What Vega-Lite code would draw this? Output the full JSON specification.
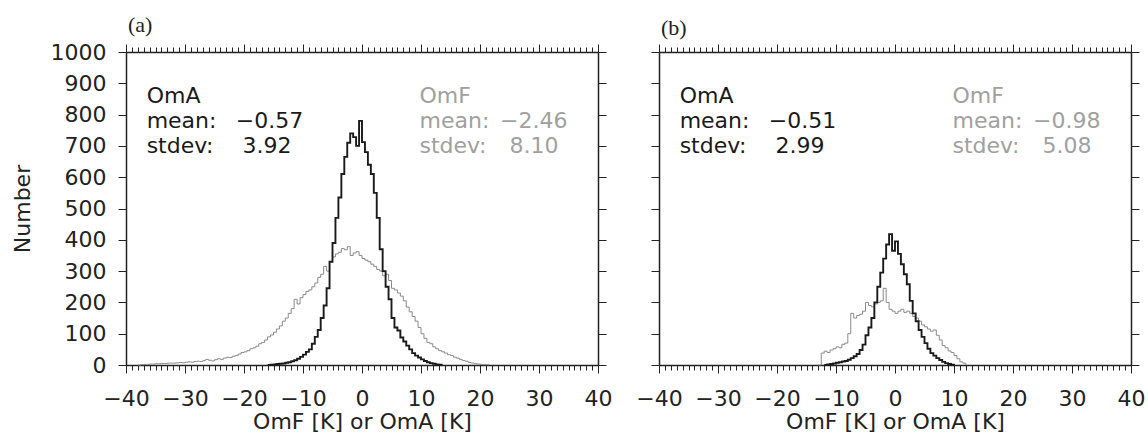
{
 "$schema": "https://vega.github.io/schema/vega-lite/v6.json",
 "background": "white",
 "padding": {"left": 11, "top": 14, "right": 5, "bottom": 5},
 "bounds": "flush",
 "spacing": 61,
 "config": {
  "font": "DejaVu Sans",
  "view": {"stroke": null},
  "axis": {"grid": false, "domainColor": "#222222", "domainWidth": 1.5, "tickColor": "#222222", "tickWidth": 1, "labelColor": "#222222", "titleColor": "#222222", "labelFontSize": 22, "titleFontSize": 22, "titleFontWeight": "normal", "labelFlush": false, "labelOverlap": false}
 },
 "datasets": {
  "hist": [
   {"p":"a","s":"OmA","x":-16,"n":0},{"p":"a","s":"OmA","x":-15.5,"n":1},{"p":"a","s":"OmA","x":-15,"n":2},{"p":"a","s":"OmA","x":-14.5,"n":3},{"p":"a","s":"OmA","x":-14,"n":4},{"p":"a","s":"OmA","x":-13.5,"n":5},{"p":"a","s":"OmA","x":-13,"n":7},{"p":"a","s":"OmA","x":-12.5,"n":9},{"p":"a","s":"OmA","x":-12,"n":12},{"p":"a","s":"OmA","x":-11.5,"n":15},{"p":"a","s":"OmA","x":-11,"n":20},{"p":"a","s":"OmA","x":-10.5,"n":26},{"p":"a","s":"OmA","x":-10,"n":33},{"p":"a","s":"OmA","x":-9.5,"n":42},{"p":"a","s":"OmA","x":-9,"n":50},{"p":"a","s":"OmA","x":-8.5,"n":68},{"p":"a","s":"OmA","x":-8,"n":90},{"p":"a","s":"OmA","x":-7.5,"n":112},{"p":"a","s":"OmA","x":-7,"n":150},{"p":"a","s":"OmA","x":-6.5,"n":190},{"p":"a","s":"OmA","x":-6,"n":245},{"p":"a","s":"OmA","x":-5.5,"n":330},{"p":"a","s":"OmA","x":-5,"n":390},{"p":"a","s":"OmA","x":-4.5,"n":470},{"p":"a","s":"OmA","x":-4,"n":535},{"p":"a","s":"OmA","x":-3.5,"n":610},{"p":"a","s":"OmA","x":-3,"n":665},{"p":"a","s":"OmA","x":-2.5,"n":710},{"p":"a","s":"OmA","x":-2,"n":740},{"p":"a","s":"OmA","x":-1.5,"n":728},{"p":"a","s":"OmA","x":-1,"n":700},{"p":"a","s":"OmA","x":-0.5,"n":780},{"p":"a","s":"OmA","x":0,"n":712},{"p":"a","s":"OmA","x":0.5,"n":680},{"p":"a","s":"OmA","x":1,"n":640},{"p":"a","s":"OmA","x":1.5,"n":610},{"p":"a","s":"OmA","x":2,"n":550},{"p":"a","s":"OmA","x":2.5,"n":470},{"p":"a","s":"OmA","x":3,"n":370},{"p":"a","s":"OmA","x":3.5,"n":300},{"p":"a","s":"OmA","x":4,"n":250},{"p":"a","s":"OmA","x":4.5,"n":210},{"p":"a","s":"OmA","x":5,"n":150},{"p":"a","s":"OmA","x":5.5,"n":120},{"p":"a","s":"OmA","x":6,"n":110},{"p":"a","s":"OmA","x":6.5,"n":88},{"p":"a","s":"OmA","x":7,"n":75},{"p":"a","s":"OmA","x":7.5,"n":62},{"p":"a","s":"OmA","x":8,"n":50},{"p":"a","s":"OmA","x":8.5,"n":38},{"p":"a","s":"OmA","x":9,"n":30},{"p":"a","s":"OmA","x":9.5,"n":24},{"p":"a","s":"OmA","x":10,"n":18},{"p":"a","s":"OmA","x":10.5,"n":13},{"p":"a","s":"OmA","x":11,"n":9},{"p":"a","s":"OmA","x":11.5,"n":6},{"p":"a","s":"OmA","x":12,"n":4},{"p":"a","s":"OmA","x":12.5,"n":2},{"p":"a","s":"OmA","x":13,"n":1},{"p":"a","s":"OmA","x":13.5,"n":0},
   {"p":"a","s":"OmF","x":-38,"n":0},{"p":"a","s":"OmF","x":-37.5,"n":1},{"p":"a","s":"OmF","x":-37,"n":2},{"p":"a","s":"OmF","x":-36.5,"n":2},{"p":"a","s":"OmF","x":-36,"n":3},{"p":"a","s":"OmF","x":-35.5,"n":3},{"p":"a","s":"OmF","x":-35,"n":4},{"p":"a","s":"OmF","x":-34.5,"n":4},{"p":"a","s":"OmF","x":-34,"n":5},{"p":"a","s":"OmF","x":-33.5,"n":5},{"p":"a","s":"OmF","x":-33,"n":6},{"p":"a","s":"OmF","x":-32.5,"n":6},{"p":"a","s":"OmF","x":-32,"n":6},{"p":"a","s":"OmF","x":-31.5,"n":7},{"p":"a","s":"OmF","x":-31,"n":8},{"p":"a","s":"OmF","x":-30.5,"n":7},{"p":"a","s":"OmF","x":-30,"n":9},{"p":"a","s":"OmF","x":-29.5,"n":10},{"p":"a","s":"OmF","x":-29,"n":9},{"p":"a","s":"OmF","x":-28.5,"n":11},{"p":"a","s":"OmF","x":-28,"n":12},{"p":"a","s":"OmF","x":-27.5,"n":11},{"p":"a","s":"OmF","x":-27,"n":14},{"p":"a","s":"OmF","x":-26.5,"n":18},{"p":"a","s":"OmF","x":-26,"n":15},{"p":"a","s":"OmF","x":-25.5,"n":13},{"p":"a","s":"OmF","x":-25,"n":17},{"p":"a","s":"OmF","x":-24.5,"n":20},{"p":"a","s":"OmF","x":-24,"n":18},{"p":"a","s":"OmF","x":-23.5,"n":22},{"p":"a","s":"OmF","x":-23,"n":25},{"p":"a","s":"OmF","x":-22.5,"n":24},{"p":"a","s":"OmF","x":-22,"n":28},{"p":"a","s":"OmF","x":-21.5,"n":30},{"p":"a","s":"OmF","x":-21,"n":35},{"p":"a","s":"OmF","x":-20.5,"n":40},{"p":"a","s":"OmF","x":-20,"n":42},{"p":"a","s":"OmF","x":-19.5,"n":46},{"p":"a","s":"OmF","x":-19,"n":52},{"p":"a","s":"OmF","x":-18.5,"n":55},{"p":"a","s":"OmF","x":-18,"n":60},{"p":"a","s":"OmF","x":-17.5,"n":68},{"p":"a","s":"OmF","x":-17,"n":72},{"p":"a","s":"OmF","x":-16.5,"n":80},{"p":"a","s":"OmF","x":-16,"n":90},{"p":"a","s":"OmF","x":-15.5,"n":96},{"p":"a","s":"OmF","x":-15,"n":105},{"p":"a","s":"OmF","x":-14.5,"n":115},{"p":"a","s":"OmF","x":-14,"n":125},{"p":"a","s":"OmF","x":-13.5,"n":140},{"p":"a","s":"OmF","x":-13,"n":150},{"p":"a","s":"OmF","x":-12.5,"n":165},{"p":"a","s":"OmF","x":-12,"n":180},{"p":"a","s":"OmF","x":-11.5,"n":210},{"p":"a","s":"OmF","x":-11,"n":195},{"p":"a","s":"OmF","x":-10.5,"n":215},{"p":"a","s":"OmF","x":-10,"n":225},{"p":"a","s":"OmF","x":-9.5,"n":235},{"p":"a","s":"OmF","x":-9,"n":240},{"p":"a","s":"OmF","x":-8.5,"n":250},{"p":"a","s":"OmF","x":-8,"n":262},{"p":"a","s":"OmF","x":-7.5,"n":280},{"p":"a","s":"OmF","x":-7,"n":290},{"p":"a","s":"OmF","x":-6.5,"n":315},{"p":"a","s":"OmF","x":-6,"n":300},{"p":"a","s":"OmF","x":-5.5,"n":330},{"p":"a","s":"OmF","x":-5,"n":345},{"p":"a","s":"OmF","x":-4.5,"n":355},{"p":"a","s":"OmF","x":-4,"n":360},{"p":"a","s":"OmF","x":-3.5,"n":372},{"p":"a","s":"OmF","x":-3,"n":368},{"p":"a","s":"OmF","x":-2.5,"n":378},{"p":"a","s":"OmF","x":-2,"n":350},{"p":"a","s":"OmF","x":-1.5,"n":358},{"p":"a","s":"OmF","x":-1,"n":362},{"p":"a","s":"OmF","x":-0.5,"n":350},{"p":"a","s":"OmF","x":0,"n":340},{"p":"a","s":"OmF","x":0.5,"n":335},{"p":"a","s":"OmF","x":1,"n":330},{"p":"a","s":"OmF","x":1.5,"n":322},{"p":"a","s":"OmF","x":2,"n":315},{"p":"a","s":"OmF","x":2.5,"n":305},{"p":"a","s":"OmF","x":3,"n":300},{"p":"a","s":"OmF","x":3.5,"n":285},{"p":"a","s":"OmF","x":4,"n":290},{"p":"a","s":"OmF","x":4.5,"n":270},{"p":"a","s":"OmF","x":5,"n":245},{"p":"a","s":"OmF","x":5.5,"n":240},{"p":"a","s":"OmF","x":6,"n":230},{"p":"a","s":"OmF","x":6.5,"n":220},{"p":"a","s":"OmF","x":7,"n":205},{"p":"a","s":"OmF","x":7.5,"n":185},{"p":"a","s":"OmF","x":8,"n":170},{"p":"a","s":"OmF","x":8.5,"n":155},{"p":"a","s":"OmF","x":9,"n":140},{"p":"a","s":"OmF","x":9.5,"n":120},{"p":"a","s":"OmF","x":10,"n":100},{"p":"a","s":"OmF","x":10.5,"n":85},{"p":"a","s":"OmF","x":11,"n":72},{"p":"a","s":"OmF","x":11.5,"n":68},{"p":"a","s":"OmF","x":12,"n":58},{"p":"a","s":"OmF","x":12.5,"n":52},{"p":"a","s":"OmF","x":13,"n":46},{"p":"a","s":"OmF","x":13.5,"n":42},{"p":"a","s":"OmF","x":14,"n":38},{"p":"a","s":"OmF","x":14.5,"n":33},{"p":"a","s":"OmF","x":15,"n":30},{"p":"a","s":"OmF","x":15.5,"n":25},{"p":"a","s":"OmF","x":16,"n":22},{"p":"a","s":"OmF","x":16.5,"n":18},{"p":"a","s":"OmF","x":17,"n":14},{"p":"a","s":"OmF","x":17.5,"n":12},{"p":"a","s":"OmF","x":18,"n":8},{"p":"a","s":"OmF","x":18.5,"n":6},{"p":"a","s":"OmF","x":19,"n":4},{"p":"a","s":"OmF","x":19.5,"n":3},{"p":"a","s":"OmF","x":20,"n":2},{"p":"a","s":"OmF","x":20.5,"n":1},{"p":"a","s":"OmF","x":21,"n":1},{"p":"a","s":"OmF","x":21.5,"n":0},
   {"p":"b","s":"OmA","x":-12,"n":0},{"p":"b","s":"OmA","x":-11.5,"n":2},{"p":"b","s":"OmA","x":-11,"n":3},{"p":"b","s":"OmA","x":-10.5,"n":5},{"p":"b","s":"OmA","x":-10,"n":7},{"p":"b","s":"OmA","x":-9.5,"n":9},{"p":"b","s":"OmA","x":-9,"n":11},{"p":"b","s":"OmA","x":-8.5,"n":13},{"p":"b","s":"OmA","x":-8,"n":17},{"p":"b","s":"OmA","x":-7.5,"n":22},{"p":"b","s":"OmA","x":-7,"n":28},{"p":"b","s":"OmA","x":-6.5,"n":35},{"p":"b","s":"OmA","x":-6,"n":48},{"p":"b","s":"OmA","x":-5.5,"n":65},{"p":"b","s":"OmA","x":-5,"n":95},{"p":"b","s":"OmA","x":-4.5,"n":120},{"p":"b","s":"OmA","x":-4,"n":150},{"p":"b","s":"OmA","x":-3.5,"n":200},{"p":"b","s":"OmA","x":-3,"n":250},{"p":"b","s":"OmA","x":-2.5,"n":295},{"p":"b","s":"OmA","x":-2,"n":340},{"p":"b","s":"OmA","x":-1.5,"n":385},{"p":"b","s":"OmA","x":-1,"n":418},{"p":"b","s":"OmA","x":-0.5,"n":365},{"p":"b","s":"OmA","x":0,"n":395},{"p":"b","s":"OmA","x":0.5,"n":355},{"p":"b","s":"OmA","x":1,"n":322},{"p":"b","s":"OmA","x":1.5,"n":290},{"p":"b","s":"OmA","x":2,"n":258},{"p":"b","s":"OmA","x":2.5,"n":205},{"p":"b","s":"OmA","x":3,"n":165},{"p":"b","s":"OmA","x":3.5,"n":140},{"p":"b","s":"OmA","x":4,"n":112},{"p":"b","s":"OmA","x":4.5,"n":90},{"p":"b","s":"OmA","x":5,"n":70},{"p":"b","s":"OmA","x":5.5,"n":52},{"p":"b","s":"OmA","x":6,"n":38},{"p":"b","s":"OmA","x":6.5,"n":30},{"p":"b","s":"OmA","x":7,"n":22},{"p":"b","s":"OmA","x":7.5,"n":16},{"p":"b","s":"OmA","x":8,"n":10},{"p":"b","s":"OmA","x":8.5,"n":6},{"p":"b","s":"OmA","x":9,"n":3},{"p":"b","s":"OmA","x":9.5,"n":1},{"p":"b","s":"OmA","x":10,"n":0},
   {"p":"b","s":"OmF","x":-13,"n":0},{"p":"b","s":"OmF","x":-12.5,"n":38},{"p":"b","s":"OmF","x":-12,"n":44},{"p":"b","s":"OmF","x":-11.5,"n":40},{"p":"b","s":"OmF","x":-11,"n":48},{"p":"b","s":"OmF","x":-10.5,"n":52},{"p":"b","s":"OmF","x":-10,"n":58},{"p":"b","s":"OmF","x":-9.5,"n":55},{"p":"b","s":"OmF","x":-9,"n":66},{"p":"b","s":"OmF","x":-8.5,"n":70},{"p":"b","s":"OmF","x":-8,"n":100},{"p":"b","s":"OmF","x":-7.5,"n":165},{"p":"b","s":"OmF","x":-7,"n":150},{"p":"b","s":"OmF","x":-6.5,"n":158},{"p":"b","s":"OmF","x":-6,"n":162},{"p":"b","s":"OmF","x":-5.5,"n":172},{"p":"b","s":"OmF","x":-5,"n":200},{"p":"b","s":"OmF","x":-4.5,"n":190},{"p":"b","s":"OmF","x":-4,"n":186},{"p":"b","s":"OmF","x":-3.5,"n":195},{"p":"b","s":"OmF","x":-3,"n":200},{"p":"b","s":"OmF","x":-2.5,"n":205},{"p":"b","s":"OmF","x":-2,"n":245},{"p":"b","s":"OmF","x":-1.5,"n":200},{"p":"b","s":"OmF","x":-1,"n":178},{"p":"b","s":"OmF","x":-0.5,"n":172},{"p":"b","s":"OmF","x":0,"n":165},{"p":"b","s":"OmF","x":0.5,"n":172},{"p":"b","s":"OmF","x":1,"n":178},{"p":"b","s":"OmF","x":1.5,"n":168},{"p":"b","s":"OmF","x":2,"n":172},{"p":"b","s":"OmF","x":2.5,"n":165},{"p":"b","s":"OmF","x":3,"n":155},{"p":"b","s":"OmF","x":3.5,"n":150},{"p":"b","s":"OmF","x":4,"n":140},{"p":"b","s":"OmF","x":4.5,"n":128},{"p":"b","s":"OmF","x":5,"n":122},{"p":"b","s":"OmF","x":5.5,"n":115},{"p":"b","s":"OmF","x":6,"n":108},{"p":"b","s":"OmF","x":6.5,"n":112},{"p":"b","s":"OmF","x":7,"n":95},{"p":"b","s":"OmF","x":7.5,"n":80},{"p":"b","s":"OmF","x":8,"n":62},{"p":"b","s":"OmF","x":8.5,"n":55},{"p":"b","s":"OmF","x":9,"n":45},{"p":"b","s":"OmF","x":9.5,"n":40},{"p":"b","s":"OmF","x":10,"n":30},{"p":"b","s":"OmF","x":10.5,"n":20},{"p":"b","s":"OmF","x":11,"n":10},{"p":"b","s":"OmF","x":11.5,"n":6},{"p":"b","s":"OmF","x":12,"n":0}
  ],
  "txt": [
   {"p":"a","s":"OmA","x":-36.5,"y":836,"t":"OmA"},
   {"p":"a","s":"OmA","x":-36.5,"y":756,"t":"mean:"},
   {"p":"a","s":"OmA","x":-21.4,"y":756,"t":"−0.57"},
   {"p":"a","s":"OmA","x":-36.5,"y":677,"t":"stdev:"},
   {"p":"a","s":"OmA","x":-20.25,"y":677,"t":"3.92"},
   {"p":"a","s":"OmF","x":9.75,"y":836,"t":"OmF"},
   {"p":"a","s":"OmF","x":9.75,"y":756,"t":"mean:"},
   {"p":"a","s":"OmF","x":23.4,"y":756,"t":"−2.46"},
   {"p":"a","s":"OmF","x":9.75,"y":677,"t":"stdev:"},
   {"p":"a","s":"OmF","x":25.0,"y":677,"t":"8.10"},
   {"p":"b","s":"OmA","x":-36.5,"y":836,"t":"OmA"},
   {"p":"b","s":"OmA","x":-36.5,"y":756,"t":"mean:"},
   {"p":"b","s":"OmA","x":-21.4,"y":756,"t":"−0.51"},
   {"p":"b","s":"OmA","x":-36.5,"y":677,"t":"stdev:"},
   {"p":"b","s":"OmA","x":-20.25,"y":677,"t":"2.99"},
   {"p":"b","s":"OmF","x":9.75,"y":836,"t":"OmF"},
   {"p":"b","s":"OmF","x":9.75,"y":756,"t":"mean:"},
   {"p":"b","s":"OmF","x":23.4,"y":756,"t":"−0.98"},
   {"p":"b","s":"OmF","x":9.75,"y":677,"t":"stdev:"},
   {"p":"b","s":"OmF","x":25.0,"y":677,"t":"5.08"}
  ]
 },
 "hconcat": [
  {
   "width": 472, "height": 313,
   "title": {"text": "(a)", "font": "Liberation Serif", "fontSize": 22, "fontWeight": "normal", "anchor": "start", "frame": "group", "offset": 4, "dx": 2, "color": "#222222"},
   "resolve": {"axis": {"x": "independent", "y": "independent"}},
   "layer": [
    {
     "data": {"name": "hist"},
     "transform": [{"filter": "datum.p === 'a' && datum.s === 'OmF'"}],
     "mark": {"type": "line", "interpolate": "step-after", "color": "#8a8a8a", "strokeWidth": 1},
     "encoding": {
      "x": {"field": "x", "type": "quantitative", "scale": {"domain": [-40, 40], "nice": false},
            "axis": {"orient": "bottom", "tickCount": 80, "labelExpr": "datum.value % 10 === 0 ? datum.label : ''", "tickSize": {"condition": {"test": "datum.value % 10 === 0", "value": 8}, "value": 5}, "labelPadding": 15, "title": "OmF [K] or OmA [K]", "titlePadding": 2}},
      "y": {"field": "n", "type": "quantitative", "scale": {"domain": [0, 1000], "nice": false},
            "axis": {"orient": "left", "values": [0,100,200,300,400,500,600,700,800,900,1000], "format": "d", "tickSize": 8, "labelPadding": 12, "title": "Number", "titlePadding": 16}}
     }
    },
    {
     "data": {"name": "hist"},
     "transform": [{"filter": "datum.p === 'a' && datum.s === 'OmA'"}],
     "mark": {"type": "line", "interpolate": "step-after", "color": "#1a1a1a", "strokeWidth": 1.9},
     "encoding": {
      "x": {"field": "x", "type": "quantitative", "scale": {"domain": [-40, 40], "nice": false},
            "axis": {"orient": "top", "tickCount": 80, "labels": false, "tickSize": {"condition": {"test": "datum.value % 10 === 0", "value": 8}, "value": 5}, "title": null}},
      "y": {"field": "n", "type": "quantitative", "scale": {"domain": [0, 1000], "nice": false},
            "axis": {"orient": "right", "values": [0,100,200,300,400,500,600,700,800,900,1000], "tickSize": 8, "labels": false, "title": null}}
     }
    },
    {
     "data": {"name": "txt"},
     "transform": [{"filter": "datum.p === 'a'"}],
     "mark": {"type": "text", "align": "left", "baseline": "alphabetic", "fontSize": 22},
     "encoding": {
      "x": {"field": "x", "type": "quantitative", "axis": null},
      "y": {"field": "y", "type": "quantitative", "axis": null},
      "text": {"field": "t"},
      "color": {"field": "s", "type": "nominal", "scale": {"domain": ["OmA", "OmF"], "range": ["#1a1a1a", "#a0a0a0"]}, "legend": null}
     }
    }
   ]
  },
  {
   "width": 472, "height": 313,
   "title": {"text": "(b)", "font": "Liberation Serif", "fontSize": 22, "fontWeight": "normal", "anchor": "start", "frame": "group", "offset": 4, "dx": 2, "color": "#222222"},
   "resolve": {"axis": {"x": "independent", "y": "independent"}},
   "layer": [
    {
     "data": {"name": "hist"},
     "transform": [{"filter": "datum.p === 'b' && datum.s === 'OmF'"}],
     "mark": {"type": "line", "interpolate": "step-after", "color": "#8a8a8a", "strokeWidth": 1},
     "encoding": {
      "x": {"field": "x", "type": "quantitative", "scale": {"domain": [-40, 40], "nice": false},
            "axis": {"orient": "bottom", "tickCount": 80, "labelExpr": "datum.value % 10 === 0 ? datum.label : ''", "tickSize": {"condition": {"test": "datum.value % 10 === 0", "value": 8}, "value": 5}, "labelPadding": 15, "title": "OmF [K] or OmA [K]", "titlePadding": 2}},
      "y": {"field": "n", "type": "quantitative", "scale": {"domain": [0, 1000], "nice": false},
            "axis": {"orient": "left", "values": [0,100,200,300,400,500,600,700,800,900,1000], "tickSize": 8, "labels": false, "title": null}}
     }
    },
    {
     "data": {"name": "hist"},
     "transform": [{"filter": "datum.p === 'b' && datum.s === 'OmA'"}],
     "mark": {"type": "line", "interpolate": "step-after", "color": "#1a1a1a", "strokeWidth": 1.9},
     "encoding": {
      "x": {"field": "x", "type": "quantitative", "scale": {"domain": [-40, 40], "nice": false},
            "axis": {"orient": "top", "tickCount": 80, "labels": false, "tickSize": {"condition": {"test": "datum.value % 10 === 0", "value": 8}, "value": 5}, "title": null}},
      "y": {"field": "n", "type": "quantitative", "scale": {"domain": [0, 1000], "nice": false},
            "axis": {"orient": "right", "values": [0,100,200,300,400,500,600,700,800,900,1000], "tickSize": 8, "labels": false, "title": null}}
     }
    },
    {
     "data": {"name": "txt"},
     "transform": [{"filter": "datum.p === 'b'"}],
     "mark": {"type": "text", "align": "left", "baseline": "alphabetic", "fontSize": 22},
     "encoding": {
      "x": {"field": "x", "type": "quantitative", "axis": null},
      "y": {"field": "y", "type": "quantitative", "axis": null},
      "text": {"field": "t"},
      "color": {"field": "s", "type": "nominal", "scale": {"domain": ["OmA", "OmF"], "range": ["#1a1a1a", "#a0a0a0"]}, "legend": null}
     }
    }
   ]
  }
 ]
}
